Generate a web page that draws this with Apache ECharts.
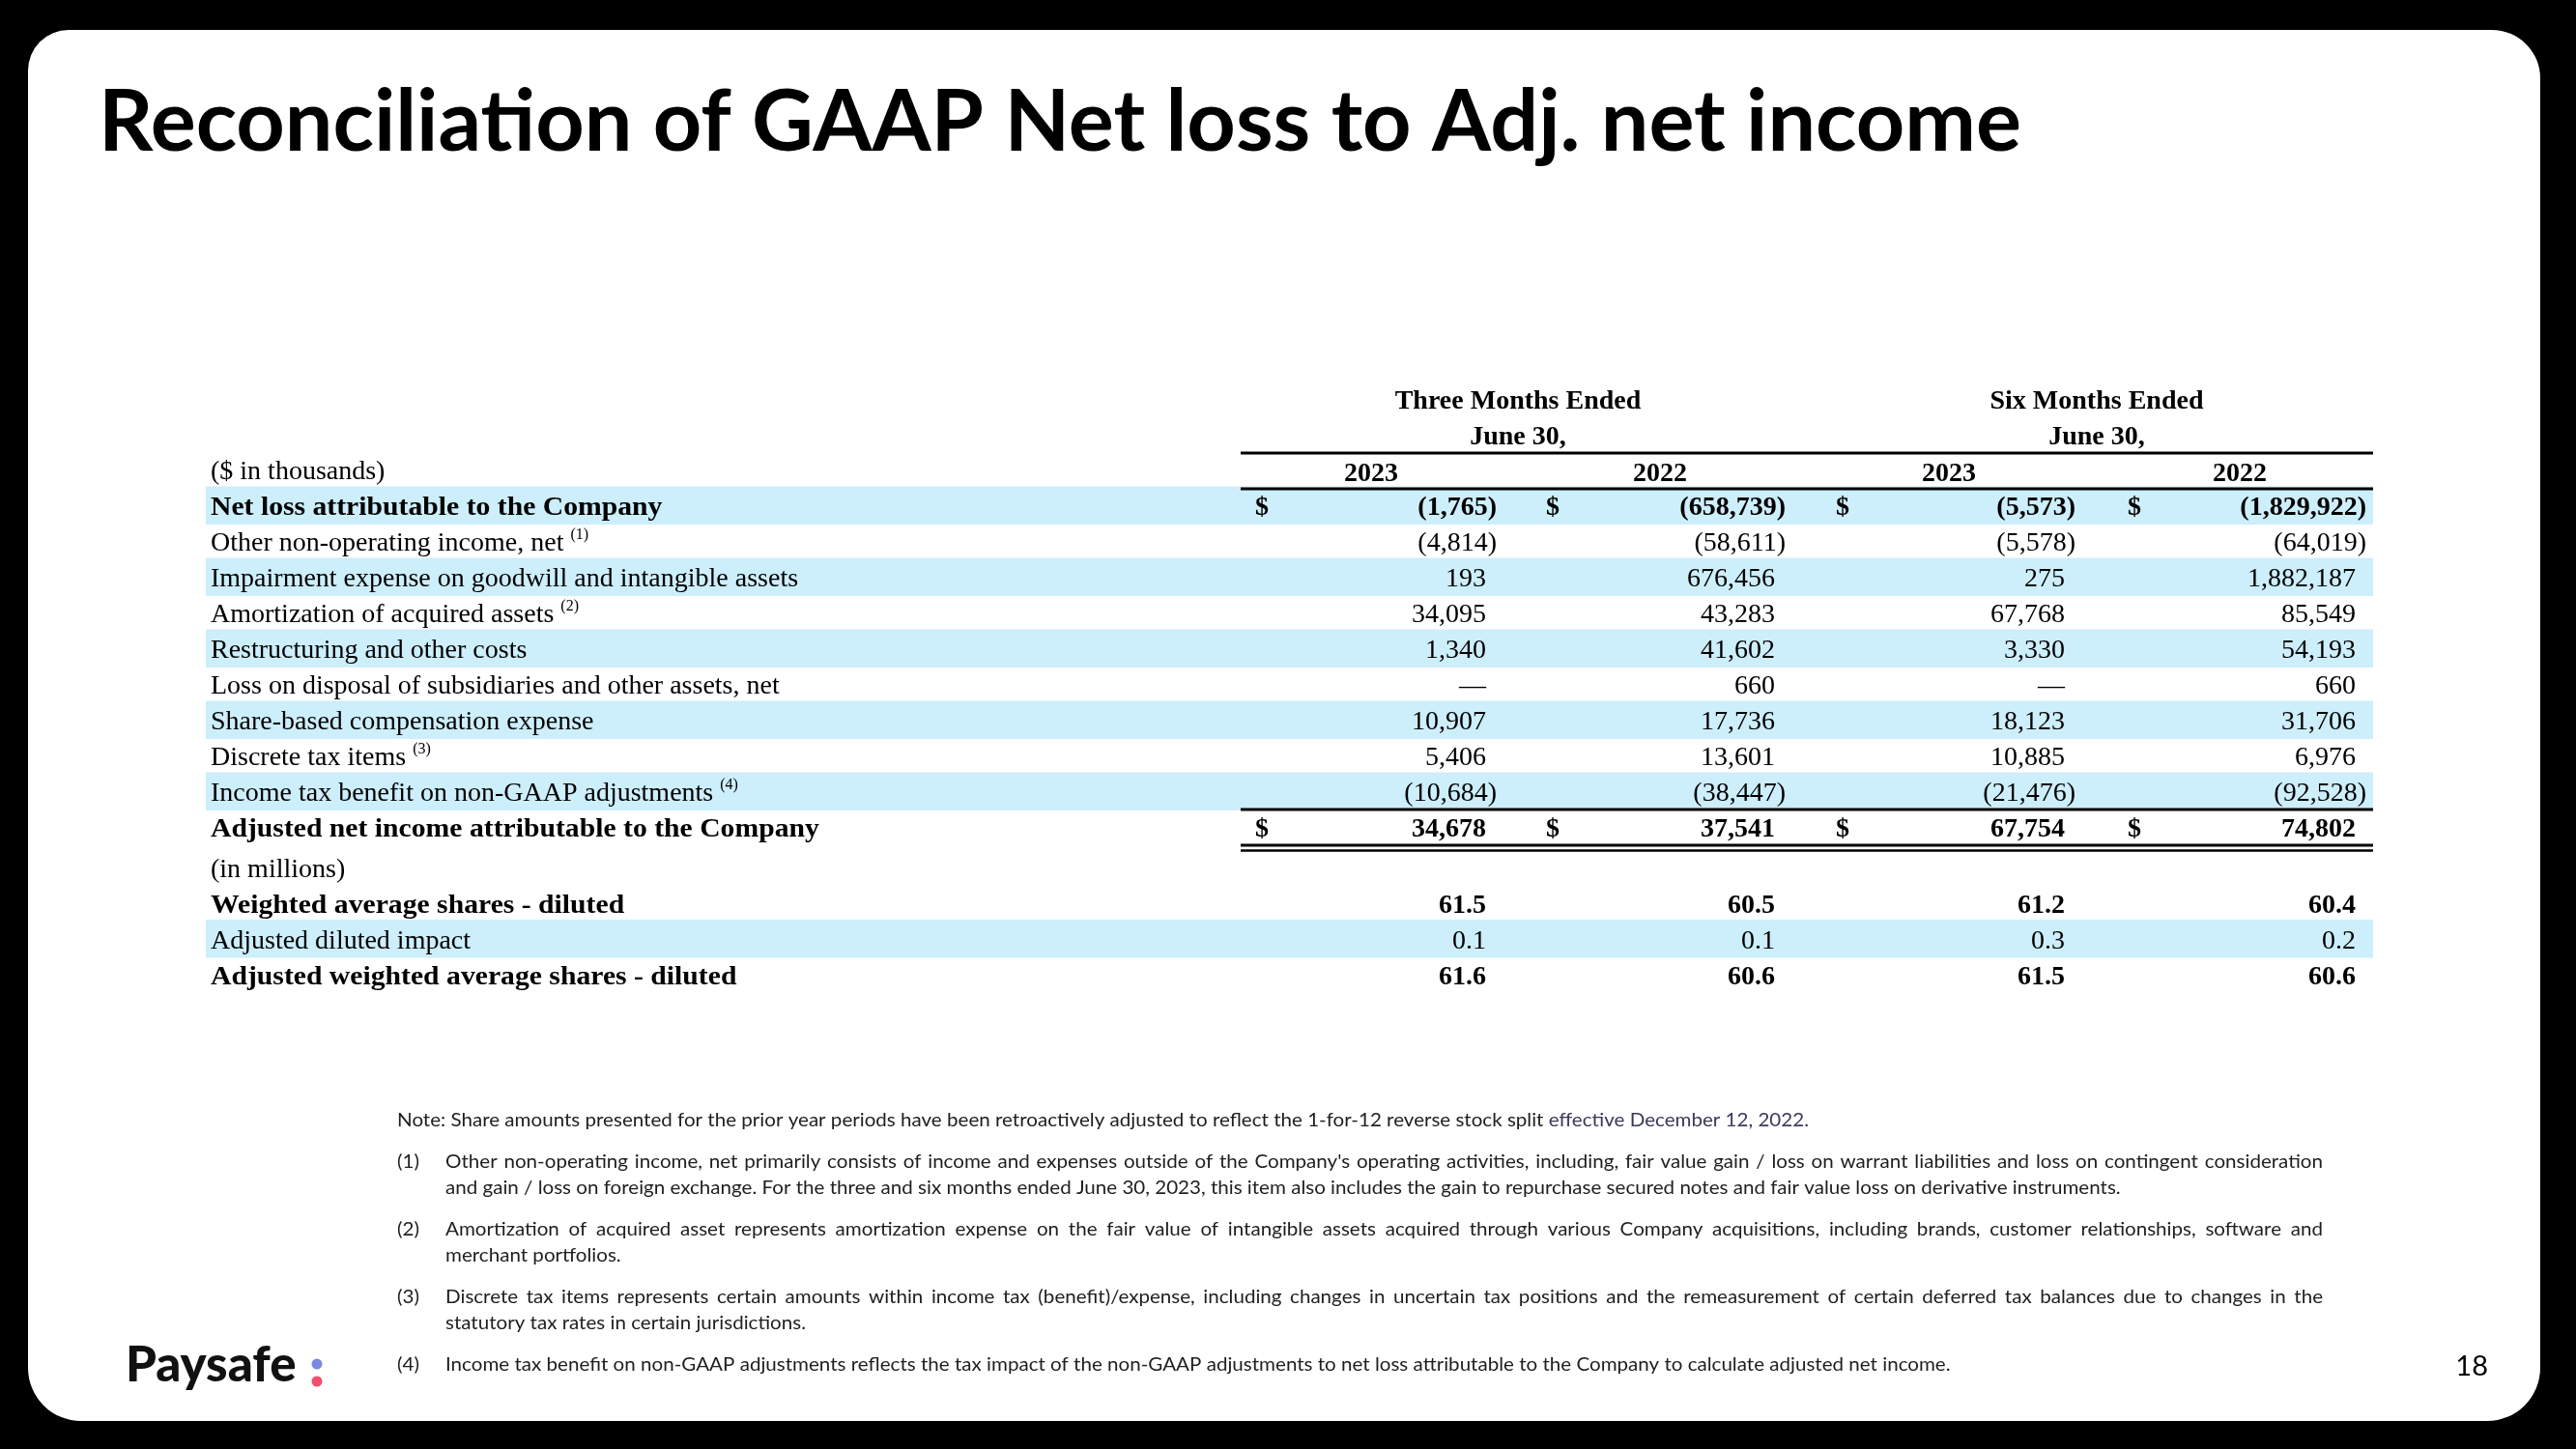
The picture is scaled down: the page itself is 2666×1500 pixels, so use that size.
<!DOCTYPE html>
<html><head><meta charset="utf-8">
<script src="https://cdn.jsdelivr.net/npm/echarts@6/dist/echarts.min.js"></script>
<style>html,body{margin:0;padding:0;background:#000;}#c{width:2666px;height:1500px;}</style>
</head><body><div id="c"></div>
<script>
// ---------------- data ----------------
const titleText = "Reconciliation of GAAP Net loss to Adj. net income";
const periodHeaders = ["Three Months Ended", "Six Months Ended"];
const periodSubHeaders = ["June 30,", "June 30,"];
const yearHeaders = ["2023", "2022", "2023", "2022"];
const unitsLabel = "($ in thousands)";
const rowLabels = [
  "Net loss attributable to the Company",
  "Other non-operating income, net",
  "Impairment expense on goodwill and intangible assets",
  "Amortization of acquired assets",
  "Restructuring and other costs",
  "Loss on disposal of subsidiaries and other assets, net",
  "Share-based compensation expense",
  "Discrete tax items",
  "Income tax benefit on non-GAAP adjustments",
  "Adjusted net income attributable to the Company",
  "(in millions)",
  "Weighted average shares - diluted",
  "Adjusted diluted impact",
  "Adjusted weighted average shares - diluted"
];
const rowNotes = ["", "(1)", "", "(2)", "", "", "", "(3)", "(4)", "", "", "", "", ""];
const threeMonths2023 = [-1765, -4814, 193, 34095, 1340, 0, 10907, 5406, -10684, 34678, null, 61.5, 0.1, 61.6];
const threeMonths2022 = [-658739, -58611, 676456, 43283, 41602, 660, 17736, 13601, -38447, 37541, null, 60.5, 0.1, 60.6];
const sixMonths2023 = [-5573, -5578, 275, 67768, 3330, 0, 18123, 10885, -21476, 67754, null, 61.2, 0.3, 61.5];
const sixMonths2022 = [-1829922, -64019, 1882187, 85549, 54193, 660, 31706, 6976, -92528, 74802, null, 60.4, 0.2, 60.6];
const totalRows = ["Net loss attributable to the Company", "Adjusted net income attributable to the Company"];
const boldRows = ["Net loss attributable to the Company", "Adjusted net income attributable to the Company", "Weighted average shares - diluted", "Adjusted weighted average shares - diluted"];
const shadedRows = ["Net loss attributable to the Company", "Impairment expense on goodwill and intangible assets", "Restructuring and other costs", "Share-based compensation expense", "Income tax benefit on non-GAAP adjustments", "Adjusted diluted impact"];
const millionsSection = "(in millions)";
const noteHead = "Note: Share amounts presented for the prior year periods have been retroactively adjusted to reflect the 1-for-12 reverse stock split";
const noteTail = "effective December 12, 2022.";
const footnoteMarks = ["(1)", "(2)", "(3)", "(4)"];
const footnoteLines = [
  ["Other non-operating income, net primarily consists of income and expenses outside of the Company's operating activities, including, fair value gain / loss on warrant liabilities and loss on contingent consideration",
   "and gain / loss on foreign exchange. For the three and six months ended June 30, 2023, this item also includes the gain to repurchase secured notes and fair value loss on derivative instruments."],
  ["Amortization of acquired asset represents amortization expense on the fair value of intangible assets acquired through various Company acquisitions, including brands, customer relationships, software and",
   "merchant portfolios."],
  ["Discrete tax items represents certain amounts within income tax (benefit)/expense, including changes in uncertain tax positions and the remeasurement of certain deferred tax balances due to changes in the",
   "statutory tax rates in certain jurisdictions."],
  ["Income tax benefit on non-GAAP adjustments reflects the tax impact of the non-GAAP adjustments to net loss attributable to the Company to calculate adjusted net income."]
];
const brandName = "Paysafe";
const pageNumber = "18";

// ---------------- layout / style ----------------
const SERIF = '"Liberation Serif", "Times New Roman", serif';
const SANS = 'Lato, "Open Sans", sans-serif';
const BLUE = '#CDEEFB';
const mctx = document.createElement('canvas').getContext('2d');
function textW(str, size, family, weight) {
  mctx.font = (weight || 'normal') + ' ' + size + 'px ' + family;
  return mctx.measureText(str).width;
}
const allRows = [unitsLabel].concat(rowLabels);
const valueCols = [threeMonths2023, threeMonths2022, sixMonths2023, sixMonths2022];
const X_MAX = 2243;
const LABEL_X = 5;
const DOLLAR_X = [1093, 1394, 1694, 1996];
const NUM_R = [1325, 1624, 1924, 2225];
const PAREN_HANG = 11;
const YEAR_X = [1206, 1505, 1804, 2105];
const PERIOD_X = [1358, 1957];
const RULE_X0 = 1071;
const FS = 28;
const TDY = 3;
const BOLD_SCALE = 1.06;
const SECTION_GAP = 0.12;
const millionsIdx = rowLabels.indexOf(millionsSection);
// position of each table row on the (row-unit) y axis: sequential, with a small gap before the share section
const rowPos = allRows.map((_, i) => i + (i - 1 >= millionsIdx ? SECTION_GAP : 0));
const Y_MAX = rowPos[rowPos.length - 1] + 0.5;

function fmt(v, r) {
  if (v === null || v === undefined) return '';
  if (v === 0) return '\u2014';
  const dec = r > millionsIdx ? 1 : 0;
  const s = Math.abs(v).toLocaleString('en-US', {minimumFractionDigits: dec, maximumFractionDigits: dec});
  return v < 0 ? '(' + s + ')' : s;
}
function T(str, x, y, opt) {
  opt = opt || {};
  return {
    type: 'text', x: x, y: y + TDY, scaleX: opt.scaleX || 1, z2: 5,
    style: {
      text: str, fontSize: opt.size || FS, fontFamily: opt.family || SERIF,
      fontWeight: opt.weight || 'normal', fill: opt.color || '#000',
      align: opt.align || 'left', verticalAlign: 'middle'
    }
  };
}
function hline(x0, x1, y, w) {
  return {type: 'rect', z2: 10, shape: {x: x0, y: y - w / 2, width: x1 - x0, height: w}, style: {fill: '#000'}};
}

function renderItem(params, api) {
  const idx = api.value(2);
  const pos = api.value(1);
  const y = api.coord([0, pos])[1];
  const band = api.size([0, 1])[1];
  const px = (u) => api.coord([u, pos])[0];
  const ch = [];
  if (idx === 0) {
    ch.push(T(unitsLabel, px(LABEL_X), y));
    yearHeaders.forEach((t, i) => ch.push(T(t, px(YEAR_X[i]), y + 1.5, {weight: 'bold', align: 'center'})));
    periodHeaders.forEach((t, i) => ch.push(T(t, px(PERIOD_X[i]), y - 73, {weight: 'bold', align: 'center'})));
    periodSubHeaders.forEach((t, i) => ch.push(T(t, px(PERIOD_X[i]), y - 36, {weight: 'bold', align: 'center'})));
    ch.push(hline(px(RULE_X0), px(X_MAX), y - 17, 3));
    ch.push(hline(px(RULE_X0), px(X_MAX), y + 20, 3));
  } else {
    const r = idx - 1;
    const label = rowLabels[r];
    const bold = boldRows.indexOf(label) >= 0;
    if (shadedRows.indexOf(label) >= 0) {
      ch.push({type: 'rect', z2: 0, shape: {x: px(0), y: y - band / 2 - 1, width: px(X_MAX) - px(0), height: band + 2.5}, style: {fill: BLUE}});
    }
    const sc = bold ? BOLD_SCALE : 1;
    ch.push(T(label, px(LABEL_X), y, {weight: bold ? 'bold' : 'normal', scaleX: sc}));
    if (rowNotes[r]) {
      const w = textW(label, FS, SERIF, bold ? 'bold' : 'normal') * sc;
      ch.push(T(rowNotes[r], px(LABEL_X) + w + 7, y - 9, {size: 16}));
    }
    valueCols.forEach((col, c) => {
      const v = col[r];
      const s = fmt(v, r);
      if (!s) return;
      const rx = px(NUM_R[c]) + (v < 0 ? PAREN_HANG : 0);
      ch.push(T(s, rx, y, {weight: bold ? 'bold' : 'normal', align: 'right'}));
      if (totalRows.indexOf(label) >= 0) {
        ch.push(T('$', px(DOLLAR_X[c]), y, {weight: 'bold', align: 'center'}));
      }
    });
    if (label === totalRows[1]) {
      ch.push(hline(px(RULE_X0), px(X_MAX), y - 18, 3));
      ch.push(hline(px(RULE_X0), px(X_MAX), y + 19, 3));
      ch.push(hline(px(RULE_X0), px(X_MAX), y + 24.5, 2.5));
    }
  }
  return {type: 'group', children: ch};
}

// ---------------- graphic (slide frame, title, notes, footer) ----------------
const graphics = [];
graphics.push({type: 'rect', z: -10, shape: {x: 29, y: 31, width: 2600, height: 1440, r: [42, 50, 55, 55]}, style: {fill: '#fff'}});
const TITLE_SIZE = 88;
const kTitle = 1990 / textW(titleText, TITLE_SIZE, SANS, 'bold');
graphics.push({type: 'text', x: 102, y: 128, scaleX: kTitle, style: {text: titleText, fontSize: TITLE_SIZE, fontFamily: SANS, fontWeight: 'bold', fill: '#000', align: 'left', verticalAlign: 'middle'}});

const FN = 19;
const kFn = 1461 / textW(noteHead + ' ' + noteTail, FN, SANS);
const FN_COLOR = '#1e1e1e';
function fnText(str, x, y, color) {
  return {type: 'text', x: x, y: y, scaleX: kFn, style: {text: str, fontSize: FN, fontFamily: SANS, fill: color || FN_COLOR, align: 'left', verticalAlign: 'middle'}};
}
function wordsLine(str, x, y, x1, justify) {
  if (!justify) { graphics.push(fnText(str, x, y)); return; }
  const words = str.split(' ');
  const ws = words.map(w => textW(w, FN, SANS) * kFn);
  const gap = (x1 - x - ws.reduce((a, b) => a + b, 0)) / (words.length - 1);
  let cx = x;
  words.forEach((w, i) => { graphics.push(fnText(w, cx, y)); cx += ws[i] + gap; });
}
graphics.push(fnText(noteHead, 411, 1160));
graphics.push(fnText(noteTail, 411 + textW(noteHead + ' ', FN, SANS) * kFn, 1160, '#3a3a58'));
const paraY = [1203, 1273, 1343, 1413];
footnoteLines.forEach((lines, p) => {
  graphics.push(fnText(footnoteMarks[p], 411, paraY[p]));
  lines.forEach((ln, j) => wordsLine(ln, 461, paraY[p] + j * 27, 2404, j < lines.length - 1));
});
graphics.push({type: 'text', x: 130, y: 1414, style: {text: brandName, fontSize: 51, fontFamily: SANS, fontWeight: 900, fill: '#111', align: 'left', verticalAlign: 'middle'}});
graphics.push({type: 'circle', shape: {cx: 328, cy: 1412, r: 5.5}, style: {fill: '#7B89E3'}});
graphics.push({type: 'circle', shape: {cx: 328, cy: 1430, r: 5.5}, style: {fill: '#F0506E'}});
graphics.push({type: 'text', x: 2575, y: 1415, style: {text: pageNumber, fontSize: 29, fontFamily: SANS, fill: '#000', align: 'right', verticalAlign: 'middle'}});

// ---------------- chart ----------------
const ROW_PITCH = 37;
const TOP = 486 - 0.5 * ROW_PITCH;
const chart = echarts.init(document.getElementById('c'), null, {renderer: 'canvas', width: 2666, height: 1500});
chart.setOption({
  backgroundColor: '#000',
  animation: false,
  graphic: graphics,
  grid: {left: 213, right: 210, top: TOP, bottom: 1500 - TOP - (Y_MAX + 0.5) * ROW_PITCH, containLabel: false},
  xAxis: {type: 'value', min: 0, max: X_MAX, show: false},
  yAxis: {type: 'value', inverse: true, min: -0.5, max: Y_MAX, show: false},
  series: [{
    type: 'custom', silent: true, clip: false,
    renderItem: renderItem,
    data: allRows.map((_, i) => [0, rowPos[i], i]),
    z: 5
  }]
});
</script></body></html>
